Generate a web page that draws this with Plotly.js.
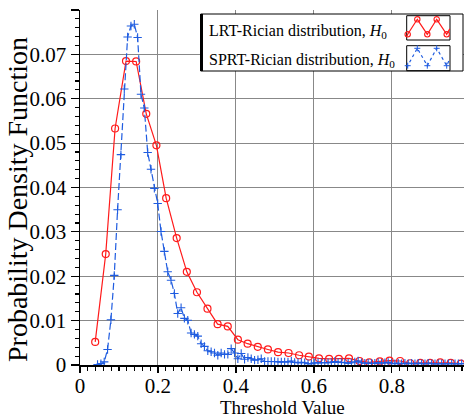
<!DOCTYPE html>
<html><head><meta charset="utf-8">
<script src="https://cdn.plot.ly/plotly-3.0.1.min.js"></script>
<style>html,body{margin:0;padding:0;background:#fff}</style>
</head><body><div id="chart" style="width:465px;height:420px"></div>
<script>
// ---- data ----
const lrtX = [0.039,0.066,0.090,0.118,0.144,0.170,0.196,0.221,0.248,0.274,0.300,0.327,0.353,0.379,0.405,0.430,0.456,0.482,0.508,0.535,0.562,0.587,0.613,0.639,0.664,0.690,0.717,0.742,0.769,0.794,0.821,0.847,0.873,0.898,0.924,0.951,0.977];
const lrtY = [0.0052,0.0250,0.0533,0.0685,0.0684,0.0566,0.0495,0.0376,0.0286,0.0210,0.0164,0.0127,0.0092,0.0087,0.0057,0.0048,0.0041,0.0035,0.0029,0.0027,0.0022,0.0019,0.0015,0.0014,0.0014,0.0015,0.0009,0.0006,0.0008,0.0010,0.0009,0.0004,0.0005,0.0005,0.0006,0.0005,0.0003];
const sprtX = [0.0450,0.0536,0.0621,0.0707,0.0793,0.0879,0.0964,0.1050,0.1136,0.1221,0.1307,0.1393,0.1478,0.1564,0.1650,0.1736,0.1821,0.1907,0.1993,0.2078,0.2164,0.2250,0.2335,0.2421,0.2507,0.2593,0.2678,0.2764,0.2850,0.2935,0.3021,0.3107,0.3192,0.3278,0.3364,0.3450,0.3535,0.3621,0.3707,0.3792,0.3878,0.3964,0.4049,0.4135,0.4221,0.4307,0.4392,0.4478,0.4564,0.4649,0.4735,0.4821,0.4906,0.4992,0.5078,0.5164,0.5249,0.5335,0.5421,0.5506,0.5592,0.5678,0.5763,0.5849,0.5935,0.6021,0.6106,0.6192,0.6278,0.6363,0.6449,0.6535,0.6620,0.6706,0.6792,0.6878,0.6963,0.7049,0.7135,0.7220,0.7306,0.7392,0.7477,0.7563,0.7649,0.7735,0.7820,0.7906,0.7992,0.8077,0.8163,0.8249,0.8334,0.8420,0.8506,0.8592,0.8677,0.8763,0.8849,0.8934,0.9020,0.9106,0.9191,0.9277,0.9363,0.9449,0.9534,0.9620,0.9706,0.9791];
const sprtY = [0.0001,0.0003,0.0007,0.0035,0.0102,0.0202,0.0350,0.0474,0.0622,0.0739,0.0764,0.0768,0.0738,0.0610,0.0579,0.0479,0.0441,0.0398,0.0364,0.0301,0.0256,0.0210,0.0191,0.0161,0.0116,0.0129,0.0105,0.0101,0.0072,0.0069,0.0065,0.0048,0.0042,0.0032,0.0030,0.0027,0.0022,0.0027,0.0024,0.0024,0.0037,0.0027,0.0014,0.0026,0.0013,0.0017,0.0014,0.0011,0.0012,0.0014,0.0008,0.0008,0.0008,0.0008,0.0007,0.0007,0.0007,0.0007,0.0009,0.0006,0.0005,0.0006,0.0005,0.0003,0.0003,0.0005,0.0005,0.0005,0.0005,0.0005,0.0006,0.0008,0.0006,0.0006,0.0005,0.0004,0.0005,0.0007,0.0009,0.0005,0.0004,0.0004,0.0004,0.0004,0.0005,0.0004,0.0005,0.0006,0.0004,0.0003,0.0004,0.0003,0.0004,0.0003,0.0004,0.0003,0.0004,0.0003,0.0003,0.0004,0.0003,0.0003,0.0003,0.0003,0.0003,0.0003,0.0003,0.0003,0.0003,0.0003];
const xTickVals = [0,0.2,0.4,0.6,0.8];
const xTickText = ['0','0.2','0.4','0.6','0.8'];
const yTickVals = [0,0.01,0.02,0.03,0.04,0.05,0.06,0.07,0.08];
const yTickText = ['0','0.01','0.02','0.03','0.04','0.05','0.06','0.07','0.08'];
const seriesNames = ['LRT-Rician distribution, <i>H</i><sub>0</sub>','SPRT-Rician distribution, <i>H</i><sub>0</sub>'];
const xTitle = 'Threshold Value';
const yTitle = 'Probability Density Function';

// ---- style ----
const FONT = 'Liberation Serif';
const RED = '#ff1a1a';
const BLUE = '#1f5ce0';
const W = 465, H = 420;
const M = {l:80, r:1, t:10, b:55};
const P = x => (x - M.l) / (W - M.l - M.r);
const Q = y => (H - M.b - y) / (H - M.t - M.b);
const X_RANGE = [0, 0.985], Y_RANGE = [0, 0.08];

const traces = [
  {x: lrtX, y: lrtY, type:'scatter', mode:'lines+markers', name: seriesNames[0],
   line:{color:RED, width:1.2}, marker:{symbol:'circle-open', size:7, color:RED, line:{width:1.2, color:RED}}},
  {x: sprtX, y: sprtY, type:'scatter', mode:'lines+markers', name: seriesNames[1],
   line:{color:BLUE, width:1.2, dash:'7px,3px'}, marker:{symbol:'cross-thin-open', size:6, color:BLUE, line:{width:1.1, color:BLUE}}}
];

// legend built from shapes/annotations (symbols on the right side)
const shapes = [];
const annotations = [];
shapes.push({type:'rect', xref:'paper', yref:'paper', x0:P(200.7), x1:P(463), y0:Q(71), y1:Q(14), fillcolor:'#fff', line:{color:'#000', width:1}, layer:'above'});
shapes.push({type:'line', xref:'paper', yref:'paper', x0:P(201.5), x1:P(201.5), y0:Q(71), y1:Q(14), line:{color:'#000', width:3}, layer:'above'});
const rows = [{top:15.7, bot:40, peak:19.3, base:34.3, color:RED, dash:'solid', mk:'circle'},
              {top:45.7, bot:70.7, peak:48.3, base:65.7, color:BLUE, dash:'dot', mk:'plus'}];
rows.forEach((r, k) => {
  shapes.push({type:'rect', xref:'paper', yref:'paper', x0:P(406.7), x1:P(450), y0:Q(r.bot), y1:Q(r.top), line:{color:'#000', width:1}, layer:'above'});
  const vx = [407.7, 417.3, 427.3, 436.7, 446.7];
  const vy = [r.base, r.peak, r.base, r.peak, r.base];
  let path = 'M' + P(406.9) + ',' + Q(r.base + 2);
  vx.forEach((v, i) => { path += ' L' + P(v) + ',' + Q(vy[i]); });
  path += ' L' + P(449.8) + ',' + Q((r.base + r.peak) / 2 + 2);
  shapes.push({type:'path', xref:'paper', yref:'paper', path:path, line:{color:r.color, width:1.2, dash:r.dash}, layer:'above'});
  vx.forEach((v, i) => {
    if (r.mk === 'circle') {
      shapes.push({type:'circle', xref:'paper', yref:'paper', x0:P(v-2.7), x1:P(v+2.7), y0:Q(vy[i]+2.7), y1:Q(vy[i]-2.7), line:{color:r.color, width:1.1}, layer:'above'});
    } else {
      shapes.push({type:'line', xref:'paper', yref:'paper', x0:P(v-3), x1:P(v+3), y0:Q(vy[i]), y1:Q(vy[i]), line:{color:r.color, width:1}, layer:'above'});
      shapes.push({type:'line', xref:'paper', yref:'paper', x0:P(v), x1:P(v), y0:Q(vy[i]-3), y1:Q(vy[i]+3), line:{color:r.color, width:1}, layer:'above'});
    }
  });
  annotations.push({xref:'paper', yref:'paper', x:P(207), y:Q(k === 0 ? 31.5 : 60), xanchor:'left', yanchor:'middle', showarrow:false,
    text: seriesNames[k], font:{family:FONT, size:16, color:'#000'}});
});
annotations.push({xref:'paper', yref:'paper', x:P(282.5), y:Q(407), xanchor:'center', yanchor:'middle', showarrow:false,
  text: xTitle, font:{family:FONT, size:19, color:'#000'}});
annotations.push({xref:'paper', yref:'paper', x:P(18), y:Q(200), xanchor:'center', yanchor:'middle', showarrow:false, textangle:-90,
  text: yTitle, font:{family:FONT, size:28, color:'#000'}});

const tickFont = {family:FONT, size:21, color:'#000'};
const layout = {
  width: W, height: H, margin: M,
  paper_bgcolor:'#fff', plot_bgcolor:'#fff',
  showlegend:false,
  font:{family:FONT, color:'#000'},
  xaxis:{range:X_RANGE, tickvals:xTickVals, ticktext:xTickText, ticks:'outside', ticklen:6, tickwidth:1.2, tickcolor:'#000',
    ticklabelstandoff:-5,
    showline:true, linecolor:'#000', linewidth:1.5, showgrid:true, gridcolor:'#888', gridwidth:1, zeroline:false,
    minor:{dtick:0.02, tick0:0, ticks:'outside', ticklen:4, tickcolor:'#000', tickwidth:1.2, showgrid:false},
    tickfont:tickFont},
  yaxis:{range:Y_RANGE, tickvals:yTickVals, ticktext:yTickText, ticks:'outside', ticklen:8, tickwidth:1.2, tickcolor:'#000',
    showline:true, linecolor:'#000', linewidth:1.5, showgrid:true, gridcolor:'#888', gridwidth:1, zeroline:false,
    minor:{dtick:0.002, tick0:0, ticks:'outside', ticklen:4, tickcolor:'#000', tickwidth:1.2, showgrid:false},
    tickfont:tickFont},
  shapes: shapes,
  annotations: annotations
};
Plotly.newPlot('chart', traces, layout, {staticPlot:true, displayModeBar:false});
</script></body></html>
